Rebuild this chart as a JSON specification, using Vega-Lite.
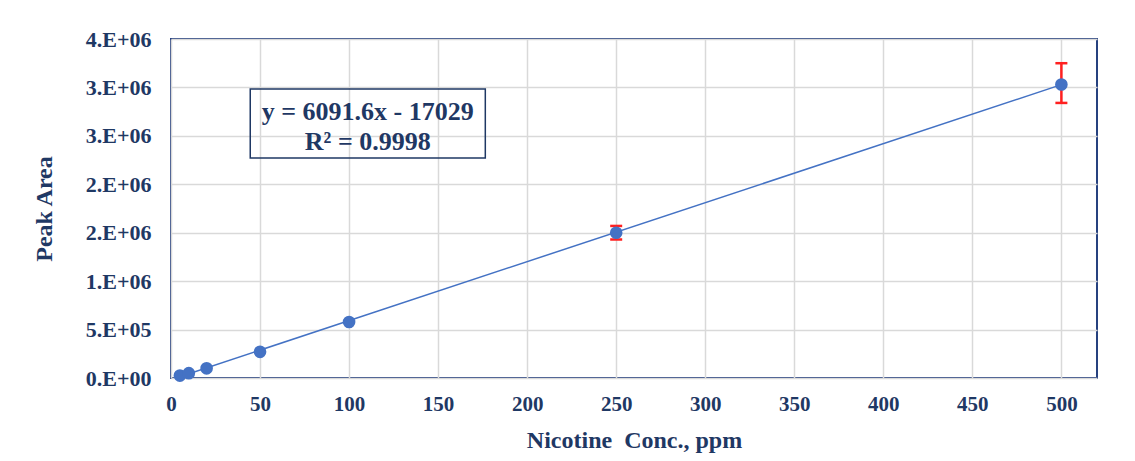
{
  "$schema": "https://vega.github.io/schema/vega-lite/v6.json",
  "width": 926,
  "height": 339,
  "autosize": {"type": "none"},
  "padding": {"left": 171, "top": 39, "right": 38, "bottom": 83},
  "background": "white",
  "config": {
    "view": {"stroke": "#26417F", "strokeWidth": 2},
    "font": "Liberation Serif"
  },
  "datasets": {
    "points": [
      {"conc": 5, "area": 25000},
      {"conc": 10, "area": 50000},
      {"conc": 20, "area": 100000},
      {"conc": 50, "area": 270000},
      {"conc": 100, "area": 578000},
      {"conc": 250, "area": 1500000},
      {"conc": 500, "area": 3030000}
    ],
    "trend": [
      {"conc": 5, "area": 13429},
      {"conc": 500, "area": 3028771}
    ],
    "errors": [
      {"conc": 250, "area": 1430000, "area2": 1570000},
      {"conc": 500, "area": 2840000, "area2": 3250000}
    ],
    "caps": [
      {"conc": 250, "area": 1430000},
      {"conc": 250, "area": 1570000},
      {"conc": 500, "area": 2840000},
      {"conc": 500, "area": 3250000}
    ],
    "box": [
      {"conc": 44.5, "conc2": 176.5, "area": 2984000, "area2": 2271000}
    ],
    "labels": [
      {"conc": 110.5, "area": 2745000, "text": "y = 6091.6x - 17029"},
      {"conc": 110.5, "area": 2440000, "text": "R² = 0.9998"}
    ]
  },
  "encoding": {
    "x": {
      "field": "conc",
      "type": "quantitative",
      "scale": {"domain": [0, 520], "nice": false, "zero": false},
      "axis": {
        "title": "Nicotine\u00a0 Conc., ppm",
        "values": [0, 50, 100, 150, 200, 250, 300, 350, 400, 450, 500],
        "ticks": false,
        "domain": false,
        "grid": true,
        "gridColor": "#D9D9D9",
        "gridWidth": 1.5,
        "labelFont": "Liberation Serif",
        "labelFontSize": 21,
        "labelFontWeight": "bold",
        "labelColor": "#1F3864",
        "labelPadding": 15,
        "labelFlush": false,
        "titleFont": "Liberation Serif",
        "titleFontSize": 24,
        "titleFontWeight": "bold",
        "titleColor": "#1F3864",
        "titlePadding": 14
      }
    },
    "y": {
      "field": "area",
      "type": "quantitative",
      "scale": {"domain": [0, 3500000], "nice": false, "zero": false},
      "axis": {
        "title": "Peak Area",
        "values": [0, 500000, 1000000, 1500000, 2000000, 2500000, 3000000, 3500000],
        "labelExpr": "replace(format(datum.value, '.0e'), 'e+', '.E+0')",
        "ticks": false,
        "domain": false,
        "grid": true,
        "gridColor": "#D9D9D9",
        "gridWidth": 1.5,
        "labelFont": "Liberation Serif",
        "labelFontSize": 22,
        "labelFontWeight": "bold",
        "labelColor": "#1F3864",
        "labelPadding": 20,
        "labelFlush": false,
        "titleFont": "Liberation Serif",
        "titleFontSize": 24,
        "titleFontWeight": "bold",
        "titleColor": "#1F3864",
        "titlePadding": 29
      }
    }
  },
  "layer": [
    {
      "data": {"name": "trend"},
      "mark": {"type": "line", "color": "#4472C4", "strokeWidth": 1.5},
      "encoding": {}
    },
    {
      "data": {"name": "errors"},
      "mark": {"type": "rule", "color": "#FF2020", "strokeWidth": 2.5},
      "encoding": {"y2": {"field": "area2"}}
    },
    {
      "data": {"name": "caps"},
      "mark": {"type": "tick", "orient": "horizontal", "color": "#FF2020", "size": 12, "thickness": 2.5, "opacity": 1},
      "encoding": {}
    },
    {
      "data": {"name": "points"},
      "mark": {"type": "point", "shape": "circle", "filled": true, "color": "#4472C4", "size": 160, "opacity": 1},
      "encoding": {}
    },
    {
      "data": {"name": "box"},
      "mark": {"type": "rect", "fill": null, "fillOpacity": 0, "stroke": "#1F3864", "strokeWidth": 1.5},
      "encoding": {"x2": {"field": "conc2"}, "y2": {"field": "area2"}}
    },
    {
      "data": {"name": "labels"},
      "mark": {"type": "text", "font": "Liberation Serif", "fontSize": 26, "fontWeight": "bold", "color": "#1F3864", "align": "center", "baseline": "middle"},
      "encoding": {"text": {"field": "text"}}
    }
  ]
}
